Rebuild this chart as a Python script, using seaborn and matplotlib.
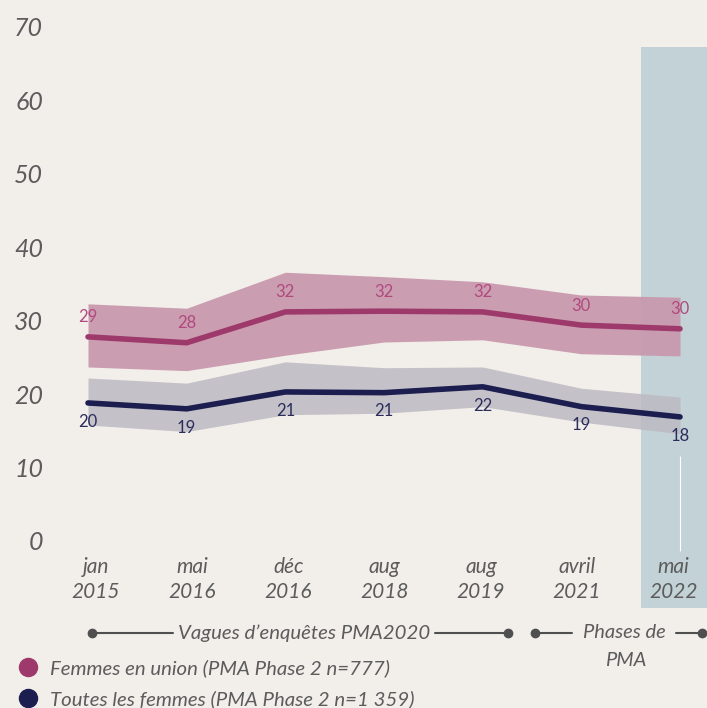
import matplotlib
matplotlib.use("Agg")
import matplotlib.pyplot as plt
import seaborn as sns
import pandas as pd
import numpy as np
from matplotlib.patches import Rectangle
from matplotlib.lines import Line2D

# ---- data ----
categories = ["jan\n2015", "mai\n2016", "déc\n2016", "aug\n2018", "aug\n2019", "avril\n2021", "mai\n2022"]
union_values = [27.8, 27.0, 31.2, 31.3, 31.2, 29.4, 28.9]
union_low = [23.7, 23.2, 25.3, 27.1, 27.4, 25.5, 25.2]
union_high = [32.3, 31.7, 36.6, 36.0, 35.3, 33.5, 33.2]
union_labels = ["29", "28", "32", "32", "32", "30", "30"]
all_values = [18.8, 18.0, 20.3, 20.2, 21.0, 18.3, 16.9]
all_low = [15.8, 14.9, 17.2, 17.4, 18.3, 16.2, 14.6]
all_high = [22.2, 21.5, 24.4, 23.6, 23.7, 20.8, 19.6]
all_labels = ["20", "19", "21", "21", "22", "19", "18"]
series_names = ["Femmes en union (PMA Phase 2 n=777)", "Toutes les femmes (PMA Phase 2 n=1 359)"]
y_ticks = [0, 10, 20, 30, 40, 50, 60, 70]

BG = "#f2eeea"
MAG = "#9e3a6b"
MAG_BAND = "#c999ae"
MAG_TXT = "#b04a7e"
NAVY = "#1b1e4f"
NAVY_BAND = "#bcbac3"
NAVY_TXT = "#2a2d5c"
HL = "#c3d2d6"
GREY = "#5c5c5c"

sns.set_theme(style="white")
plt.rcParams["font.family"] = ["Lato", "DejaVu Sans"]

W, H = 707, 708
fig = plt.figure(figsize=(W / 100, H / 100), dpi=100, facecolor=BG)

def fx(px):
    return px / W

def fy(py):
    return 1 - py / H

# axes: y 0 -> px 541, 70 -> px 27 ; x 0 -> px 88, step 98.67
step = 98.67
x0 = -(88 - 50) / step
x1 = (700 - 88) / step
ax = fig.add_axes([fx(50), fy(541), fx(700) - fx(50), (541 - 27) / H])
ax.set_facecolor("none")
ax.set_xlim(x0, x1)
ax.set_ylim(0, 70)

x = np.arange(len(categories))

# highlight for the last phase
ax.add_patch(Rectangle((x[-1] - 0.395, -9.1), 0.8, 76.4, facecolor=HL, edgecolor="none",
                       zorder=0, clip_on=False))
ax.vlines(x[-1], -1.3, 11.6, color="white", lw=0.8, zorder=0.5, clip_on=False)

# bands
ax.fill_between(x, union_low, union_high, color=MAG_BAND, alpha=0.95, lw=0, zorder=1)
ax.fill_between(x, all_low, all_high, color=NAVY_BAND, alpha=0.85, lw=0, zorder=1)

df = pd.DataFrame({
    "x": np.concatenate([x, x]),
    "val": union_values + all_values,
    "serie": [series_names[0]] * len(x) + [series_names[1]] * len(x),
})
sns.lineplot(data=df, x="x", y="val", hue="serie", palette=[MAG, NAVY], linewidth=4,
             legend=False, ax=ax, zorder=3, solid_capstyle="round", solid_joinstyle="round")

for xi, v, t in zip(x, union_values, union_labels):
    ax.annotate(t, (xi, v), xytext=(0, 14), textcoords="offset points", ha="center",
                va="center", fontsize=12, color=MAG_TXT, zorder=4)
for xi, v, t in zip(x, all_values, all_labels):
    ax.annotate(t, (xi, v), xytext=(0, -13.5), textcoords="offset points", ha="center",
                va="center", fontsize=12, color=NAVY_TXT, zorder=4)

ax.set_yticks(y_ticks)
ax.set_yticklabels([str(t) for t in y_ticks], fontsize=18, style="italic", color=GREY)
ax.set_xticks(x)
ax.set_xticklabels([])
# category labels (slightly tighter spacing than the data points, as in the original)
for i, (xi, cat) in enumerate(zip(x, categories)):
    ax.annotate(cat, (xi, 0), xycoords=("data", "axes fraction"),
                xytext=(8 - 2.45 * i, -16), textcoords="offset pixels",
                ha="center", va="top", fontsize=15, style="italic", color=GREY,
                linespacing=1.3, annotation_clip=False)
ax.tick_params(axis="both", length=0)
ax.tick_params(axis="y", pad=5)
for s in ax.spines.values():
    s.set_visible(False)
ax.set_xlabel("")
ax.set_ylabel("")
ax.grid(False)

# ---- bracket annotations ----
yb = 633
lc = "#4f4f4f"
def seg(xa, xb):
    fig.add_artist(Line2D([fx(xa), fx(xb)], [fy(yb), fy(yb)], color=lc, lw=1.5))
def dot(xa):
    fig.add_artist(Line2D([fx(xa)], [fy(yb)], marker="o", ms=6, color=lc, lw=0))

seg(92, 173); seg(435, 508); dot(92); dot(508)
fig.text(fx(304), fy(yb), "Vagues d\u2019enquêtes PMA2020", ha="center", va="center",
         fontsize=14.7, style="italic", color=GREY)
seg(535, 572); seg(676, 702); dot(535); dot(702)
fig.text(fx(624), fy(yb), "Phases de", ha="center", va="center",
         fontsize=14.5, style="italic", color=GREY)
fig.text(fx(626), fy(660), "PMA", ha="center", va="center",
         fontsize=14.5, style="italic", color=GREY)

# ---- legend ----
handles = [Line2D([], [], marker="o", ms=13, color=c, lw=0) for c in [MAG, NAVY]]
leg = fig.legend(handles, series_names, loc="upper left", bbox_to_anchor=(fx(16), fy(659)),
                 frameon=False, handletextpad=0.45, labelspacing=0.65, borderpad=0,
                 handlelength=1.2, borderaxespad=0, prop={"size": 14.7, "style": "italic"})
for t in leg.get_texts():
    t.set_color(GREY)

fig.savefig("out.png", dpi=100, facecolor=BG)
